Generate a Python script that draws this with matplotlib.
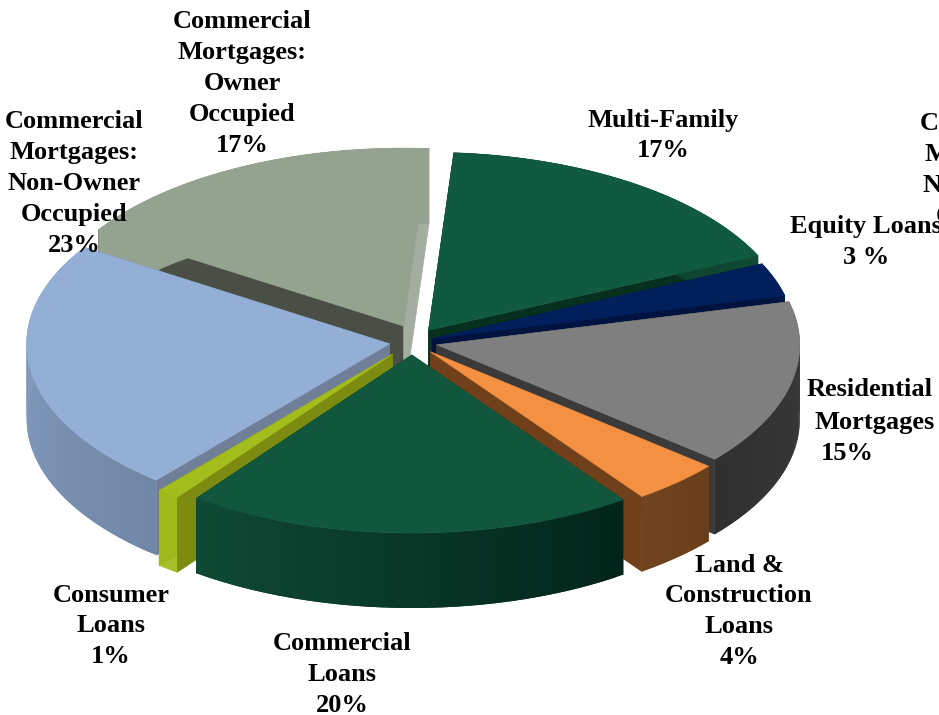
import matplotlib
matplotlib.use("Agg")
import matplotlib.pyplot as plt
import numpy as np

names = ["Multi-Family", "Equity Loans", "Residential Mortgages", "Land & Construction Loans",
         "Commercial Loans", "Consumer Loans", "Commercial Mortgages: Non-Owner Occupied",
         "Commercial Mortgages: Owner Occupied"]
values = [17, 3, 15, 4, 20, 1, 23, 17]
explode = [0.08, 0.06, 0.07, 0.075, 0.073, 0.087, 0.068, 0.10]
nudge_x = [0, 0, 0, 0, 0, 0, 2, 8]  # slices are not quite on their radial line in the source

top_colors = ["#0f5a40", "#00205c", "#7f7f7f", "#f39041", "#10573d", "#a2bd1c", "#93afd6", "#93a38f"]
wall_colors = ["#07301f", "#001340", "#3a3a3a", "#70401a", "#0a3c2a", "#7d8c10", "#6f7f98", "#4a4f45"]
rim_first = ["#0a3a28", "#00143c", "#3c3c3c", "#6a3e18", "#02241a", "#a2bd1c", "#7187a8", "#93a38f"]
rim_last = ["#0f4a33", "#001a50", "#303030", "#70441e", "#0f4a35", "#a2bd1c", "#8aa4c6", "#93a38f"]
owner_right_wall = "#a3aea0"

cx, cy = 412, 342
rx, ry = 363, 178
depth = 75
start = 86

fs = 19
pitch = 30.8
font = "Liberation Serif"

fig = plt.figure(figsize=(9.39, 7.15), dpi=100)
ax = fig.add_axes([0, 0, 1, 1])
ax.set_xlim(0, 939)
ax.set_ylim(715, 0)
ax.axis("off")


def project(angle, apex):
    a = np.radians(angle)
    return apex[0] + rx*np.cos(a), apex[1] - ry*np.sin(a)


def mix(c1, c2, t):
    c1 = np.array(matplotlib.colors.to_rgb(c1))
    c2 = np.array(matplotlib.colors.to_rgb(c2))
    return c1*(1-t) + c2*t


edges = start - np.cumsum([0] + values)*3.6
order = [7, 0, 1, 2, 6, 3, 5, 4]  # back to front

for i in order:
    a0, a1 = edges[i], edges[i+1]
    mid = np.radians((a0 + a1)/2)
    apex = (cx + rx*explode[i]*np.cos(mid) + nudge_x[i], cy - ry*explode[i]*np.sin(mid))
    theta = np.linspace(a0, a1, 60)
    xs, ys = project(theta, apex)

    # radial walls
    for k, c in [(0, wall_colors[i]), (-1, owner_right_wall if i == 7 else wall_colors[i])]:
        ax.fill([apex[0], xs[k], xs[k], apex[0]],
                [apex[1], ys[k], ys[k]+depth, apex[1]+depth],
                color=c, lw=0.4)

    # outer rim, strips overlap so no seams show between them
    for j in range(len(theta)-1):
        c = mix(rim_first[i], rim_last[i], j/(len(theta)-2))
        e = min(j+2, len(theta)-1)
        ax.fill([xs[j], xs[e], xs[e], xs[j]],
                [ys[j], ys[e], ys[e]+depth, ys[j]+depth],
                color=c, lw=0)

    ax.fill(np.r_[apex[0], xs], np.r_[apex[1], ys], color=top_colors[i], lw=0.4)

labels = [
    (242, 22, ["Commercial", "Mortgages:", "Owner", "Occupied", "17%"]),
    (74, 122, ["Commercial", "Mortgages:", "Non-Owner", "Occupied", "23%"]),
    (663, 120, ["Multi-Family", "17%"]),
    (989, 124, ["Commercial", "Mortgages:", "Non-Owner", "Occupied"]),
    (866, 227, ["Equity Loans", "3 %"]),
    (739, 565, ["Land &", "Construction", "Loans", "4%"]),
    (111, 595, ["Consumer", "Loans", "1%"]),
    (342, 644, ["Commercial", "Loans", "20%"]),
]
for x, y, lines in labels:
    for n, line in enumerate(lines):
        ax.text(x, y + n*pitch, line, ha="center", va="center", fontsize=fs,
                fontweight="bold", family=font, color="black", zorder=5, clip_on=False)

# this one is not centred line by line in the source
for x, y, line in [(870, 390, "Residential"), (875, 422, "Mortgages"), (847, 453, "15%")]:
    ax.text(x, y, line, ha="center", va="center", fontsize=fs, fontweight="bold",
            family=font, color="black", zorder=5)

fig.savefig("out.png", dpi=100)
